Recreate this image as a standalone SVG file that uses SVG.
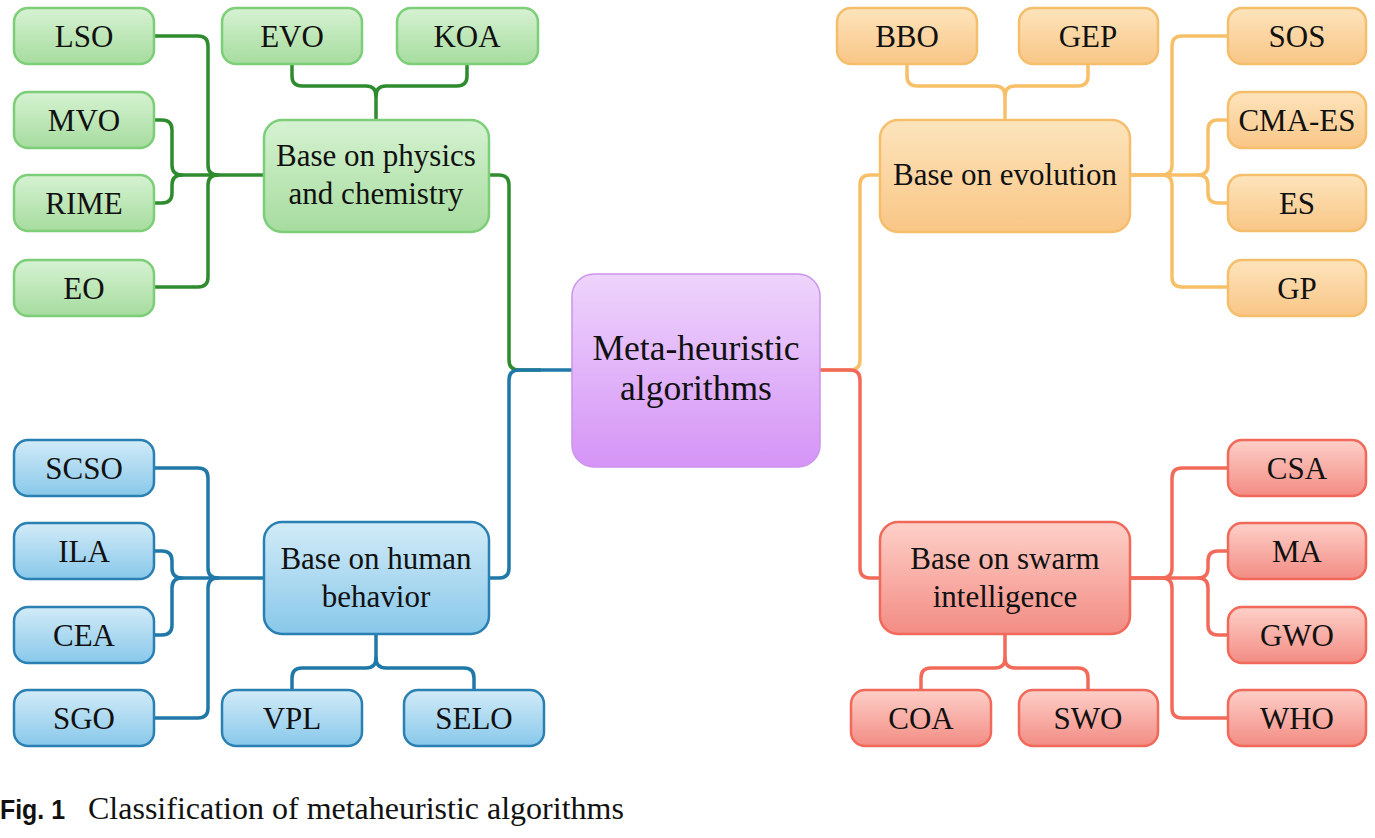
<svg xmlns="http://www.w3.org/2000/svg" width="1375" height="838" viewBox="0 0 1375 838">
<defs>
<linearGradient id="gG" x1="0" y1="0" x2="0" y2="1"><stop offset="0" stop-color="#d6f2d2"/><stop offset="1" stop-color="#a6dc9e"/></linearGradient>
<linearGradient id="gO" x1="0" y1="0" x2="0" y2="1"><stop offset="0" stop-color="#fde4bc"/><stop offset="1" stop-color="#f9c686"/></linearGradient>
<linearGradient id="gB" x1="0" y1="0" x2="0" y2="1"><stop offset="0" stop-color="#d2ebf8"/><stop offset="1" stop-color="#88c8ea"/></linearGradient>
<linearGradient id="gR" x1="0" y1="0" x2="0" y2="1"><stop offset="0" stop-color="#fdd0c8"/><stop offset="1" stop-color="#f38c84"/></linearGradient>
<linearGradient id="gP" x1="0" y1="0" x2="0" y2="1"><stop offset="0" stop-color="#eed4fc"/><stop offset="1" stop-color="#d594f6"/></linearGradient>
</defs>
<style>
.g{fill:url(#gG);stroke:#7ccf78;stroke-width:2.5}
.o{fill:url(#gO);stroke:#f5be6c;stroke-width:2.5}
.b{fill:url(#gB);stroke:#2a80b2;stroke-width:2.5}
.r{fill:url(#gR);stroke:#f0695a;stroke-width:2.5}
.p{fill:url(#gP);stroke:#cc94ec;stroke-width:1.5}
text{font-family:"Liberation Serif","Times New Roman",serif;fill:#111;text-anchor:middle}
.lf{font-size:31px}
.br{font-size:31px}
.ct{font-size:35.5px}
#connectors path{fill:none;stroke-width:3.5;stroke-linecap:round}
.cg{stroke:#2e8b2e}
.cb{stroke:#1f78a8}
.co{stroke:#f7c068}
.cr{stroke:#f26a5a}
</style>
<rect width="1375" height="838" fill="#fff"/>
<g id="connectors">
<path class="cg" d="M154,36 H198 Q208,36 208,46 V165 Q208,175 218,175"/>
<path class="cg" d="M154,287 H198 Q208,287 208,277 V185 Q208,175 218,175"/>
<path class="cg" d="M154,120 H162 Q172,120 172,130 V165 Q172,175 182,175 H264"/>
<path class="cg" d="M154,203 H162 Q172,203 172,193 V185 Q172,175 182,175"/>
<path class="cg" d="M292,64 V76 Q292,86 302,86 H366 Q376,86 376,96 V120"/>
<path class="cg" d="M467,64 V76 Q467,86 457,86 H386 Q376,86 376,96"/>
<path class="cg" d="M489,175 H499 Q509,175 509,185 V360 Q509,370 519,370 H540"/>
<path class="cb" d="M154,468 H198 Q208,468 208,478 V568 Q208,578 218,578"/>
<path class="cb" d="M154,718 H198 Q208,718 208,708 V588 Q208,578 218,578"/>
<path class="cb" d="M154,551 H162 Q172,551 172,561 V568 Q172,578 182,578 H264"/>
<path class="cb" d="M154,635 H162 Q172,635 172,625 V588 Q172,578 182,578"/>
<path class="cb" d="M292,690 V678 Q292,668 302,668 H366 Q376,668 376,658 V634"/>
<path class="cb" d="M474,690 V678 Q474,668 464,668 H386 Q376,668 376,658"/>
<path class="cb" d="M489,578 H499 Q509,578 509,568 V380 Q509,370 519,370 H572"/>
<path class="co" d="M820,370 H850 Q860,370 860,360 V185 Q860,175 870,175 H880"/>
<path class="co" d="M1228,36 H1182 Q1172,36 1172,46 V165 Q1172,175 1162,175 H1130"/>
<path class="co" d="M1228,287 H1182 Q1172,287 1172,277 V185 Q1172,175 1162,175"/>
<path class="co" d="M1228,120 H1218 Q1208,120 1208,130 V165 Q1208,175 1198,175 H1130"/>
<path class="co" d="M1228,203 H1218 Q1208,203 1208,193 V185 Q1208,175 1198,175"/>
<path class="co" d="M907,64 V76 Q907,86 917,86 H995 Q1005,86 1005,96 V120"/>
<path class="co" d="M1088,64 V76 Q1088,86 1078,86 H1015 Q1005,86 1005,96"/>
<path class="cr" d="M820,370 H850 Q860,370 860,380 V568 Q860,578 870,578 H880"/>
<path class="cr" d="M1228,468 H1182 Q1172,468 1172,478 V568 Q1172,578 1162,578 H1130"/>
<path class="cr" d="M1228,718 H1182 Q1172,718 1172,708 V588 Q1172,578 1162,578"/>
<path class="cr" d="M1228,551 H1218 Q1208,551 1208,561 V568 Q1208,578 1198,578 H1130"/>
<path class="cr" d="M1228,635 H1218 Q1208,635 1208,625 V588 Q1208,578 1198,578"/>
<path class="cr" d="M921,690 V678 Q921,668 931,668 H995 Q1005,668 1005,658 V634"/>
<path class="cr" d="M1088,690 V678 Q1088,668 1078,668 H1015 Q1005,668 1005,658"/>
</g>
<g id="center"><rect class="p" x="572" y="274" width="248" height="193" rx="22"/><text class="ct" x="696" y="360">Meta-heuristic</text><text class="ct" x="696" y="400">algorithms</text></g>
<g id="physics"><rect class="g" x="264" y="120" width="225" height="112" rx="18"/><text class="br" x="376" y="166">Base on physics</text><text class="br" x="376" y="204">and chemistry</text></g>
<g id="evolution"><rect class="o" x="880" y="120" width="250" height="112" rx="18"/><text class="br" x="1005" y="185">Base on evolution</text></g>
<g id="human"><rect class="b" x="264" y="522" width="225" height="112" rx="18"/><text class="br" x="376" y="569">Base on human</text><text class="br" x="376" y="607">behavior</text></g>
<g id="swarm"><rect class="r" x="880" y="522" width="250" height="112" rx="18"/><text class="br" x="1005" y="569">Base on swarm</text><text class="br" x="1005" y="607">intelligence</text></g>
<g id="LSO"><rect class="g" x="14" y="8" width="140" height="56" rx="14"/><text class="lf" x="84" y="47">LSO</text></g>
<g id="MVO"><rect class="g" x="14" y="92" width="140" height="56" rx="14"/><text class="lf" x="84" y="131">MVO</text></g>
<g id="RIME"><rect class="g" x="14" y="175" width="140" height="56" rx="14"/><text class="lf" x="84" y="214">RIME</text></g>
<g id="EO"><rect class="g" x="14" y="260" width="140" height="56" rx="14"/><text class="lf" x="84" y="299">EO</text></g>
<g id="EVO"><rect class="g" x="222" y="8" width="140" height="56" rx="14"/><text class="lf" x="292" y="47">EVO</text></g>
<g id="KOA"><rect class="g" x="397" y="8" width="141" height="56" rx="14"/><text class="lf" x="467" y="47">KOA</text></g>
<g id="BBO"><rect class="o" x="837" y="8" width="140" height="56" rx="14"/><text class="lf" x="907" y="47">BBO</text></g>
<g id="GEP"><rect class="o" x="1019" y="8" width="139" height="56" rx="14"/><text class="lf" x="1088" y="47">GEP</text></g>
<g id="SOS"><rect class="o" x="1228" y="8" width="138" height="56" rx="14"/><text class="lf" x="1297" y="47">SOS</text></g>
<g id="CMA-ES"><rect class="o" x="1228" y="92" width="138" height="56" rx="14"/><text class="lf" x="1297" y="131">CMA-ES</text></g>
<g id="ES"><rect class="o" x="1228" y="175" width="138" height="56" rx="14"/><text class="lf" x="1297" y="214">ES</text></g>
<g id="GP"><rect class="o" x="1228" y="260" width="138" height="56" rx="14"/><text class="lf" x="1297" y="299">GP</text></g>
<g id="SCSO"><rect class="b" x="14" y="440" width="140" height="56" rx="14"/><text class="lf" x="84" y="479">SCSO</text></g>
<g id="ILA"><rect class="b" x="14" y="523" width="140" height="56" rx="14"/><text class="lf" x="84" y="562">ILA</text></g>
<g id="CEA"><rect class="b" x="14" y="607" width="140" height="56" rx="14"/><text class="lf" x="84" y="646">CEA</text></g>
<g id="SGO"><rect class="b" x="14" y="690" width="140" height="56" rx="14"/><text class="lf" x="84" y="729">SGO</text></g>
<g id="VPL"><rect class="b" x="222" y="690" width="140" height="56" rx="14"/><text class="lf" x="292" y="729">VPL</text></g>
<g id="SELO"><rect class="b" x="404" y="690" width="140" height="56" rx="14"/><text class="lf" x="474" y="729">SELO</text></g>
<g id="CSA"><rect class="r" x="1228" y="440" width="138" height="56" rx="14"/><text class="lf" x="1297" y="479">CSA</text></g>
<g id="MA"><rect class="r" x="1228" y="523" width="138" height="56" rx="14"/><text class="lf" x="1297" y="562">MA</text></g>
<g id="GWO"><rect class="r" x="1228" y="607" width="138" height="56" rx="14"/><text class="lf" x="1297" y="646">GWO</text></g>
<g id="WHO"><rect class="r" x="1228" y="690" width="138" height="56" rx="14"/><text class="lf" x="1297" y="729">WHO</text></g>
<g id="COA"><rect class="r" x="851" y="690" width="140" height="56" rx="14"/><text class="lf" x="921" y="729">COA</text></g>
<g id="SWO"><rect class="r" x="1019" y="690" width="139" height="56" rx="14"/><text class="lf" x="1088" y="729">SWO</text></g>
<g id="caption">
<text x="0" y="819" textLength="65" lengthAdjust="spacingAndGlyphs" style="font-family:'Liberation Sans',Arial,sans-serif;font-weight:bold;font-size:28px;text-anchor:start">Fig. 1</text>
<text x="88" y="819" style="font-size:32px;text-anchor:start">Classification of metaheuristic algorithms</text>
</g>
</svg>
